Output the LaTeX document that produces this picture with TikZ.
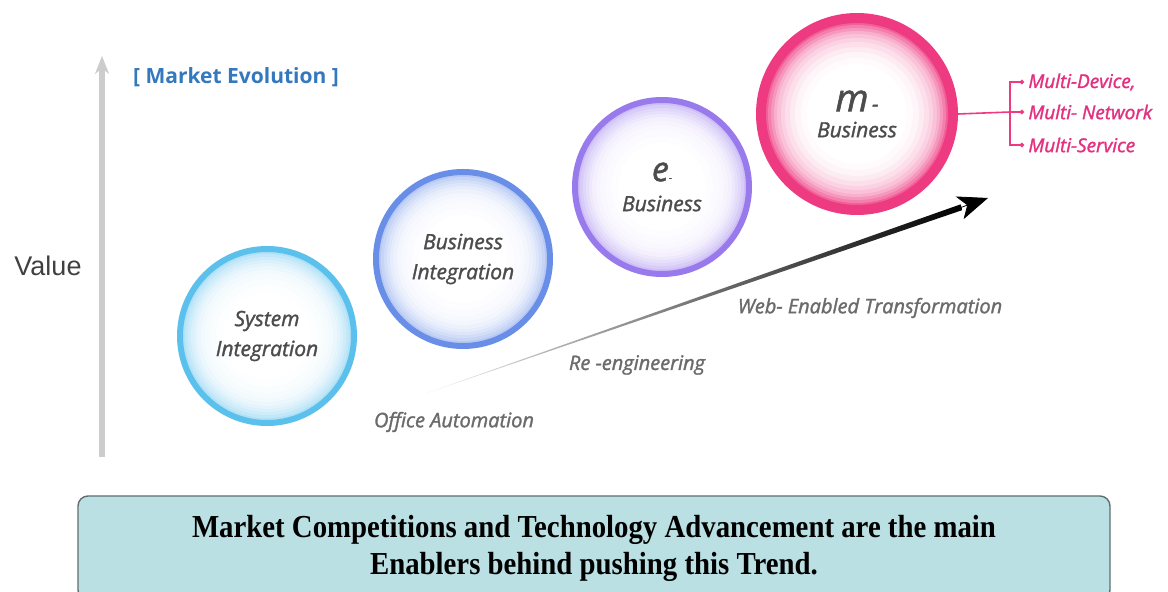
\documentclass[tikz,border=0pt]{standalone}
\usepackage{fontspec}
\setmainfont{Liberation Serif}
\newfontfamily\labelfont{Open Sans}[ItalicFeatures={FakeBold=1.5}]
\newfontfamily\evofont{Open Sans}
\newfontfamily\axisfont{Liberation Sans}
\usetikzlibrary{arrows.meta,calc}

\definecolor{sysring}{RGB}{92,192,236}
\definecolor{bizring}{RGB}{104,142,232}
\definecolor{ering}{RGB}{152,122,236}
\definecolor{mring}{RGB}{238,58,128}
\definecolor{mtext}{RGB}{228,48,128}
\definecolor{evoblue}{RGB}{52,120,190}
\definecolor{boxfill}{RGB}{186,224,227}
\definecolor{boxline}{RGB}{96,110,112}

\begin{document}
\begin{tikzpicture}
[x=0.5pt,y=-0.5pt,%
  stage/.style={circle,draw=#1,line width=3pt,minimum size=87pt,inner sep=0pt,
    align=center,text=black!70,font=\labelfont\itshape\fontsize{10.5}{15}\selectfont,
    fill=#1!48,
    path picture={\foreach \r/\t in {41/38,39.5/30,38/23,36.5/17,35/12,33/8,31/5.5,28.5/3.5,25.5/1.5,22/0}
      \fill[#1!\t!white] (path picture bounding box.center) circle (\r pt);}},%
  phase/.style={text=black!58,font=\labelfont\itshape\fontsize{10}{12}\selectfont},%
  multi/.style={anchor=west,inner sep=2pt,text=mtext,
    font=\labelfont\itshape\fontsize{9.5}{11}\selectfont},%
  fork/.style={draw=mring,line width=0.8pt},%
  enabler/.style={draw=boxline,line width=0.7pt,fill=boxfill,rounded corners=5pt,
    minimum width=516pt,minimum height=52pt,align=center,
    font=\bfseries\fontsize{16}{18.5}\selectfont}]
\useasboundingbox (0,0) rectangle (1168,592);
\fill[white] (0,0) rectangle (1168,592);

% value axis
\coordinate (axisbot) at (102,457);
\coordinate (axistop) at (102,56);
\draw[black!20,line width=2.6pt,-{Stealth[length=9pt,width=7pt]}] (axisbot) -- (axistop);
\node[font=\axisfont\fontsize{13.5}{16}\selectfont,text=black!75] (value) at (48,266) {Value};
\node[font=\evofont\bfseries\fontsize{10.5}{13}\selectfont,text=evoblue] (evo) at (236,77) {[ Market Evolution ]};

% stages
\node[stage=sysring] (sysint) at (267,336) {System\\Integration};
\node[stage=bizring] (bizint) at (463,259) {Business\\Integration};
\node[stage=ering] (ebiz) at (662,187)
  {{\fontsize{17}{17}\selectfont e}{\tiny -}\\Business};
\node[stage=mring,line width=5pt,minimum size=96pt,fill=mring!80,
  path picture={\foreach \r/\t in {44.5/65,43/52,41.5/40,40/31,38/23,36/16,33.5/10,31/5,28/2,25/0}
    \fill[mring!\t!white] (path picture bounding box.center) circle (\r pt);}] (mbiz) at (857,114)
  {{\fontsize{19}{19}\selectfont m}\,-\\[-2pt]Business};

% trend arrow
\coordinate (trendstart) at (427,393);
\coordinate (tip) at (988,198);
\coordinate (headbase) at ($(tip)!14pt!(trendstart)$);
\shade[left color=black!8,middle color=black!85,right color=black]
  (trendstart) -- ($(headbase)!1.5pt!90:(tip)$) -- ($(headbase)!1.5pt!-90:(tip)$) -- cycle;
\draw[line width=0.4pt,-{Stealth[length=15pt,width=12pt,inset=4pt]}] (headbase) -- (tip);

\node[phase] (officeauto) at (454,422) {Office Automation};
\node[phase] (reeng) at (637,365) {Re -engineering};
\node[phase] (webtrans) at (870,308) {Web- Enabled Transformation};

% multi branches
\node[multi] (mdev) at (1024,82) {Multi-Device,};
\node[multi] (mnet) at (1024,112) {Multi- Network};
\node[multi] (mserv) at (1024,145) {Multi-Service};
\coordinate (forkpt) at (1010,112);
\draw[fork] (mbiz.east) -- (forkpt);
\draw[fork,-{Circle[length=2.2pt]}] (forkpt) |- (mdev.west);
\draw[fork,-{Circle[length=2.2pt]}] (forkpt) -- (mnet.west);
\draw[fork,-{Circle[length=2.2pt]}] (forkpt) |- (mserv.west);

% bottom note
\node[enabler] (trend) at (594,548)
  {\scalebox{0.9}[1]{Market Competitions and Technology Advancement are the main}\\
   \scalebox{0.9}[1]{Enablers behind pushing this Trend.}};
\end{tikzpicture}
\end{document}
